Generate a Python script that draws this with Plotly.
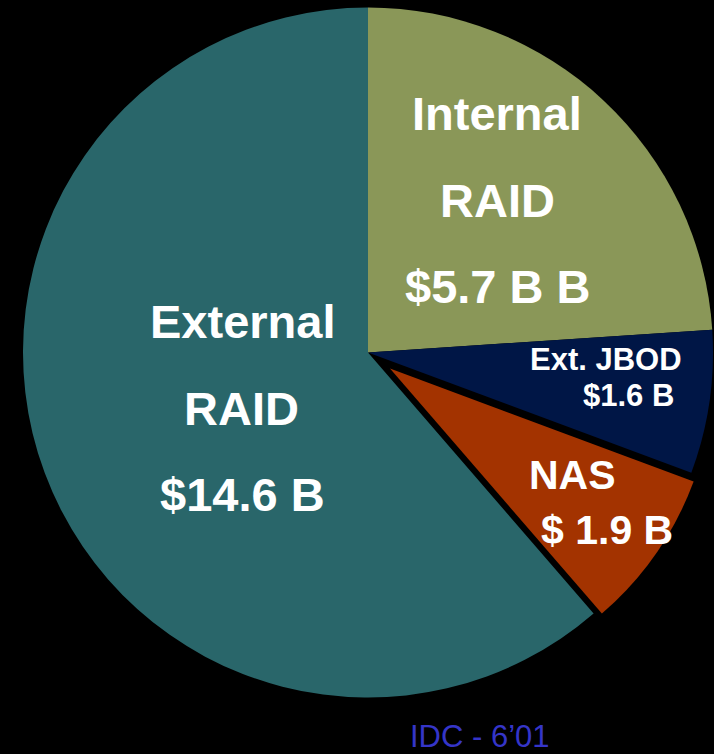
import plotly.graph_objects as go

# ---- data ----
labels = ["Internal RAID", "Ext. JBOD", "NAS", "External RAID"]
values = [5.7, 1.6, 1.9, 14.6]          # $ billions
colors = ["#8A9758", "#001646", "#A33300", "#29666A"]
exploded = "NAS"
source_note = "IDC - 6\u201901"

# label texts (one entry per line)
text_internal = ["Internal", "RAID", "$5.7 B B"]
text_external = ["External", "RAID", "$14.6 B"]
text_jbod = ["Ext. JBOD", "$1.6 B"]
text_nas = ["NAS", "$ 1.9 B"]

W, H = 714, 754


def px(x):
    return x / W


def py(y):
    return 1 - y / H


fig = go.Figure()

# main pie (exploded slice hidden here)
main_colors = [c if l != exploded else "rgba(0,0,0,0)" for l, c in zip(labels, colors)]
fig.add_trace(go.Pie(
    labels=labels, values=values, sort=False, direction="clockwise", rotation=0,
    marker=dict(colors=main_colors, line=dict(width=0)),
    textinfo="none", hoverinfo="label+value", showlegend=False,
    domain=dict(x=[px(23), px(713)], y=[py(697.5), py(7.5)]),
))

# exploded slice drawn from same data in a shifted domain
ex_colors = [c if l == exploded else "rgba(0,0,0,0)" for l, c in zip(labels, colors)]
fig.add_trace(go.Pie(
    labels=labels, values=values, sort=False, direction="clockwise", rotation=0,
    marker=dict(colors=ex_colors, line=dict(width=0)),
    textinfo="none", hoverinfo="skip", showlegend=False,
    domain=dict(x=[px(66), 1.0], y=[py(692.5), py(44.5)]),
))

font_fam = "Arial, Liberation Sans, sans-serif"
annots = []


def add_lines(lines, xs, ys, size):
    for t, x, y in zip(lines, xs, ys):
        annots.append(dict(
            text="<b>%s</b>" % t, x=px(x), y=py(y), xref="paper", yref="paper",
            showarrow=False, xanchor="center", yanchor="middle",
            font=dict(family=font_fam, size=size, color="white"),
        ))


add_lines(text_internal, [497, 497, 497], [113, 200, 286], 47)
add_lines(text_external, [242, 241, 242], [321, 408, 495], 47)
add_lines(text_jbod, [606, 628], [359, 395], 31)
add_lines(text_nas, [572, 607], [475, 530], 41)

annots.append(dict(
    text=source_note, x=px(480), y=py(736), xref="paper", yref="paper",
    showarrow=False, xanchor="center", yanchor="middle",
    font=dict(family=font_fam, size=31, color="#3535C8"),
))

fig.update_layout(
    width=W, height=H, margin=dict(l=0, r=0, t=0, b=0),
    paper_bgcolor="black", plot_bgcolor="black",
    annotations=annots,
)

fig.write_html(
    "out.html",
    config={"displayModeBar": False},
    post_script="document.body.style.margin='0';document.body.style.background='black';",
)
